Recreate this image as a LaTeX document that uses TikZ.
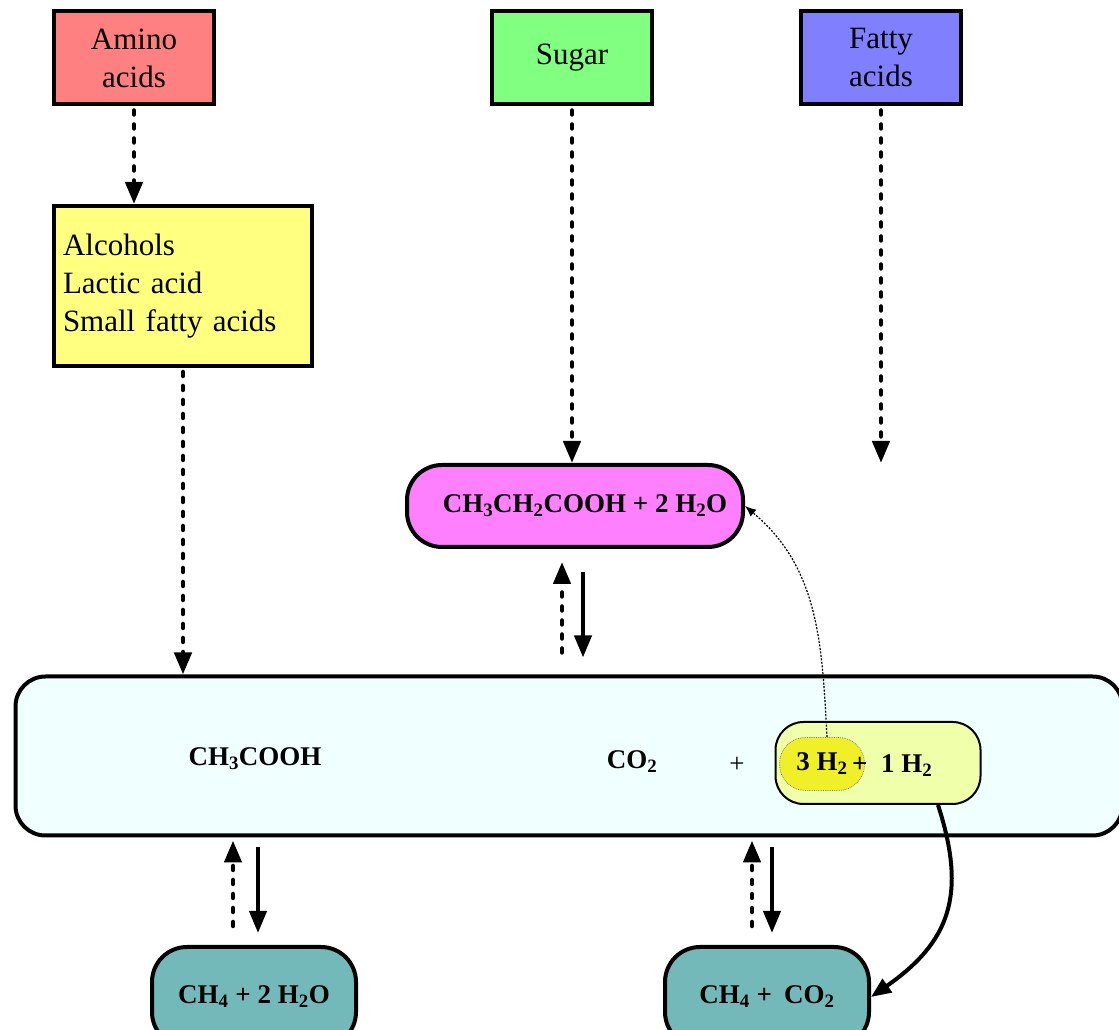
\documentclass[tikz,border=0pt]{standalone}
\usepackage{fontspec}
\setmainfont{Liberation Serif}
\usetikzlibrary{arrows.meta,calc}
\definecolor{aminored}{RGB}{255,128,128}
\definecolor{sugargreen}{RGB}{128,255,128}
\definecolor{fattyblue}{RGB}{128,128,255}
\definecolor{alcyellow}{RGB}{255,255,128}
\definecolor{pinkish}{RGB}{255,128,255}
\definecolor{pale}{RGB}{240,255,255}
\definecolor{lightyel}{RGB}{240,255,170}
\definecolor{hotyel}{RGB}{240,240,40}
\definecolor{tealbox}{RGB}{116,185,185}
\begin{document}
\begin{tikzpicture}[x=1pt,y=1pt,
    src/.style={draw,line width=4pt,minimum width=160pt,minimum height=93pt,align=center,inner sep=0pt,font=\fontsize{31}{38}\selectfont},
    chem/.style={font=\fontsize{27}{32}\selectfont\bfseries},
    pill/.style={draw,line width=4pt,rounded corners=35pt,chem},
    dotarrow/.style={line width=4.5pt,dash pattern=on 4pt off 10pt,line cap=round,-{Triangle[length=22pt,width=17pt]}},
    fullarrow/.style={line width=4pt,-{Triangle[length=22pt,width=17pt]}}]
    \useasboundingbox (0,0) rectangle (1119,1030);
    \node[src,fill=aminored] (amino) at (134,972) {Amino\\acids};
    \node[src,fill=sugargreen] (sugar) at (572,972) {Sugar};
    \node[src,fill=fattyblue] (fatty) at (881,972) {Fatty\\acids};
    \node[src,fill=alcyellow,minimum width=258pt,minimum height=160pt,align=left,text width=240pt] (alc) at (183,744) {Alcohols\\Lactic acid\\Small fatty acids};
    \node[pill,fill=pinkish,minimum width=336pt,minimum height=82pt] (pink) at (575,524) {\hspace*{20pt}CH\textsubscript{3}CH\textsubscript{2}COOH + 2 H\textsubscript{2}O};
    \node[pill,rounded corners=30pt,fill=pale,minimum width=1107pt,minimum height=159pt] (big) at (569,274) {};
    \node[chem] (acetic) at (255,271) {CH\textsubscript{3}COOH};
    \node[chem] (co2) at (632,268) {CO\textsubscript{2}};
    \node[font=\fontsize{27}{32}\selectfont] (plus) at (737,265) {+};
    \node[draw,line width=2pt,rounded corners=28pt,fill=lightyel,minimum width=205pt,minimum height=82pt] (hydro) at (878,267) {};
    \node[draw=gray,densely dotted,line width=0.8pt,rounded corners=26pt,fill=hotyel,minimum width=85pt,minimum height=53pt,chem] (three) at (822,266) {3 H\textsubscript{2}};
    \node[chem,anchor=west,inner sep=0pt] (one) at (852,264) {+\ \ 1 H\textsubscript{2}};
    \node[pill,fill=tealbox,minimum width=204pt,minimum height=100pt] (ch4h2o) at (254,33) {CH\textsubscript{4} + 2 H\textsubscript{2}O};
    \node[pill,fill=tealbox,minimum width=204pt,minimum height=100pt] (ch4co2) at (767,33) {CH\textsubscript{4} +\hspace{12pt}CO\textsubscript{2}};
    \coordinate (fattyend) at (881,567);
    \draw[dotarrow,shorten <=4pt] (amino.south) -- (amino.south |- alc.north);
    \draw[dotarrow,shorten <=4pt] (alc.south) -- (alc.south |- big.north);
    \draw[dotarrow,shorten <=4pt] (sugar.south) -- (sugar.south |- pink.north);
    \draw[dotarrow,shorten <=4pt] (fatty.south) -- (fattyend);
    \draw[dotarrow] ($(pink.south |- big.north)+(-13,22)$) -- ($(pink.south)+(-13,-13)$);
    \draw[fullarrow] ($(pink.south)+(8,-23)$) -- ($(pink.south |- big.north)+(8,17)$);
    \draw[dotarrow] ($(ch4h2o.north)+(-21,19)$) -- ($(ch4h2o.north |- big.south)+(-21,-3)$);
    \draw[fullarrow] ($(ch4h2o.north |- big.south)+(4,-10)$) -- ($(ch4h2o.north)+(4,12)$);
    \draw[dotarrow] ($(ch4co2.north)+(-15,19)$) -- ($(ch4co2.north |- big.south)+(-15,-3)$);
    \draw[fullarrow] ($(ch4co2.north |- big.south)+(5,-10)$) -- ($(ch4co2.north)+(5,12)$);
    \draw[line width=1.2pt,dash pattern=on 2pt off 1.5pt,-{Latex[length=11pt,width=9pt]}] ($(three.north)+(5,0)$) to[out=93,in=-40] (pink.east);
    \draw[line width=4pt,-{Triangle[length=20pt,width=16pt]}] ($(hydro.south)+(60,0)$) to[out=-72,in=35,looseness=1.2] (ch4co2.east);
\end{tikzpicture}
\end{document}
